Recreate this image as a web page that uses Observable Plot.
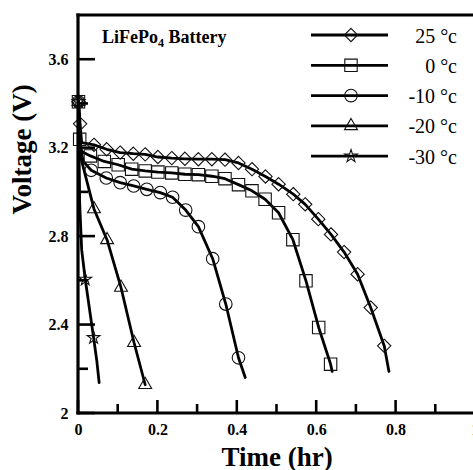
<!DOCTYPE html>
<html><head><meta charset="utf-8">
<script src="https://cdn.jsdelivr.net/npm/d3@7"></script>
<script src="https://cdn.jsdelivr.net/npm/@observablehq/plot@0.6"></script>
<style>html,body{margin:0;padding:0;background:#fff;overflow:hidden}
#wrap{position:relative;width:473px;height:470px}
#overlay{position:absolute;left:0;top:0;pointer-events:none}</style>
</head><body><div id="wrap"><div id="chart"></div><svg id="overlay" width="473" height="470"></svg></div>
<script>
// ---- data ----
const seriesNames = ["25 \u00b0c", "0 \u00b0c", "-10 \u00b0c", "-20 \u00b0c", "-30 \u00b0c"];
const seriesSymbols = ["diamond2", "square", "circle", "triangle", "star"];

// 25 °C (diamonds)
const t25 = [0, 0.004, 0.008, 0.039, 0.071, 0.105, 0.138, 0.168, 0.2, 0.235, 0.268, 0.302, 0.336, 0.369, 0.403, 0.437, 0.471, 0.504, 0.541, 0.571, 0.604, 0.636, 0.669, 0.703, 0.736, 0.770, 0.782];
const v25 = [3.41, 3.31, 3.225, 3.215, 3.195, 3.18, 3.175, 3.172, 3.16, 3.155, 3.152, 3.15, 3.15, 3.148, 3.133, 3.105, 3.072, 3.037, 2.992, 2.946, 2.879, 2.81, 2.73, 2.63, 2.479, 2.306, 2.19];
const m25 = [1,1,0,1,1,1,1,1,1,1,1,1,1,1,1,1,1,1,1,1,1,1,1,1,1,1,0];
// 0 °C (squares)
const t0 = [0, 0.003, 0.008, 0.03, 0.065, 0.1, 0.134, 0.168, 0.2, 0.235, 0.268, 0.302, 0.336, 0.369, 0.403, 0.437, 0.47, 0.504, 0.54, 0.573, 0.605, 0.635, 0.639];
const v0 = [3.41, 3.24, 3.185, 3.165, 3.14, 3.125, 3.105, 3.097, 3.092, 3.088, 3.082, 3.08, 3.073, 3.062, 3.035, 3.007, 2.969, 2.908, 2.786, 2.60, 2.389, 2.223, 2.19];
const m0 = [1,1,0,1,1,1,1,1,1,1,1,1,1,1,1,1,1,1,1,1,1,1,0];
// -10 °C (circles)
const t10 = [0, 0.005, 0.012, 0.032, 0.07, 0.105, 0.139, 0.172, 0.206, 0.237, 0.27, 0.302, 0.338, 0.371, 0.403, 0.42];
const v10 = [3.41, 3.2, 3.14, 3.1, 3.065, 3.044, 3.029, 3.014, 2.999, 2.978, 2.92, 2.845, 2.70, 2.495, 2.252, 2.163];
const m10 = [1,0,0,1,1,1,1,1,1,1,1,1,1,1,1,0];
// -20 °C (triangles)
const t20 = [0, 0.004, 0.039, 0.072, 0.107, 0.14, 0.168];
const v20 = [3.41, 3.17, 2.925, 2.785, 2.57, 2.32, 2.13];
const m20 = [1,0,1,1,1,1,1];
// -30 °C (stars)
const t30 = [0, 0.003, 0.008, 0.017, 0.038, 0.046, 0.052];
const v30 = [3.41, 2.95, 2.74, 2.607, 2.343, 2.24, 2.14];
const m30 = [1,0,0,1,1,0,0];

const xMajorTicks = [0, 0.2, 0.4, 0.6, 0.8, 1];
const xTickLabels = ["0", "0.2", "0.4", "0.6", "0.8", "1"];
const xMinorTicks = [0.1, 0.3, 0.5, 0.7, 0.9];
const yMajorTicks = [2, 2.4, 2.8, 3.2, 3.6];
const yTickLabels = ["2", "2.4", "2.8", "3.2", "3.6"];
const yMinorTicks = [2.2, 2.6, 3.0, 3.4];
const xDomain = [0, 1];
const yDomain = [2, 3.8];
const xTitle = "Time (hr)";
const yTitle = "Voltage (V)";
const legendTitle = ["LiFePo", "4", " Battery"];

// ---- build ----
const seriesT = [t25, t0, t10, t20, t30];
const seriesV = [v25, v0, v10, v20, v30];
const seriesM = [m25, m0, m10, m20, m30];
const rows = seriesT.map((ts, i) => ts.map((t, j) => ({s: i, t, v: seriesV[i][j], m: seriesM[i][j]})));

const W = 473, H = 470, mL = 78, mT = 15, mB = 57, mR = -2;
const serif = "'Liberation Serif', 'Times New Roman', serif";
const markerR = [6, 7, 6.3, 4.8, 4];

const marks = [];
rows.forEach((r, i) => marks.push(Plot.line(r, {x: "t", y: "v", stroke: "#000", strokeWidth: 2.8, strokeLinejoin: "round"})));
rows.forEach((r, i) => marks.push(Plot.dot(r.filter(d => d.m), {x: "t", y: "v", symbol: () => seriesSymbols[i], r: markerR[i], stroke: "#111", strokeWidth: 1.1, fill: "none"})));
marks.push(
  Plot.axisX({ticks: xMajorTicks, tickSize: 0, tickPadding: 10, tickFormat: d => xTickLabels[xMajorTicks.indexOf(d)], fontSize: 16, fontWeight: "bold", label: null}),
  Plot.axisY({ticks: yMajorTicks, tickSize: 0, tickPadding: 10, tickFormat: d => yTickLabels[yMajorTicks.indexOf(d)], fontSize: 16, fontWeight: "bold", label: null}),
  Plot.text([xTitle], {text: d => d, frameAnchor: "bottom", dy: 52, lineAnchor: "bottom", fontSize: 27, fontWeight: "bold"}),
  Plot.text([yTitle], {text: d => d, frameAnchor: "left", rotate: -90, dx: -48, lineAnchor: "bottom", fontSize: 27, fontWeight: "bold"})
);

const plot = Plot.plot({
  width: W, height: H,
  marginLeft: mL, marginTop: mT, marginBottom: mB, marginRight: mR,
  x: {domain: xDomain},
  y: {domain: yDomain},
  style: {fontFamily: serif, background: "#fff", color: "#000"},
  marks
});
document.getElementById("chart").appendChild(plot);

// frame, inward ticks and legend, positioned through Plot's own scales
const xs = plot.scale("x"), ys = plot.scale("y");
const ov = d3.select("#overlay");
const x0 = xs.apply(xDomain[0]), x1 = xs.apply(xDomain[1]);
const y0 = ys.apply(yDomain[0]), y1 = ys.apply(yDomain[1]);
const tk = ov.append("g").attr("stroke", "#000").attr("stroke-width", 2.6);
xMajorTicks.forEach(v => tk.append("line").attr("x1", xs.apply(v)).attr("x2", xs.apply(v)).attr("y1", y0).attr("y2", y0 - 13));
xMinorTicks.forEach(v => tk.append("line").attr("x1", xs.apply(v)).attr("x2", xs.apply(v)).attr("y1", y0).attr("y2", y0 - 9));
yMajorTicks.forEach(v => tk.append("line").attr("y1", ys.apply(v)).attr("y2", ys.apply(v)).attr("x1", x0).attr("x2", x0 + 17));
yMinorTicks.forEach(v => tk.append("line").attr("y1", ys.apply(v)).attr("y2", ys.apply(v)).attr("x1", x0).attr("x2", x0 + 10));
const fr = ov.append("g").attr("stroke", "#000").attr("stroke-width", 3.2).attr("stroke-linecap", "square");
fr.append("line").attr("x1", x0).attr("x2", x0).attr("y1", y1).attr("y2", y0);
fr.append("line").attr("x1", x0).attr("x2", x1).attr("y1", y0).attr("y2", y0);
fr.append("line").attr("x1", x0).attr("x2", x1).attr("y1", y1).attr("y2", y1);
fr.append("line").attr("x1", x1).attr("x2", x1).attr("y1", y1).attr("y2", y0);

const lg = ov.append("g").attr("font-family", serif);
const d3Sym = {diamond2: d3.symbolDiamond2, square: d3.symbolSquare, circle: d3.symbolCircle, triangle: d3.symbolTriangle, star: d3.symbolStar};
seriesNames.forEach((name, i) => {
  const y = 35 + i * 30.3;
  lg.append("line").attr("x1", 311).attr("x2", 388).attr("y1", y).attr("y2", y).attr("stroke", "#000").attr("stroke-width", 2.8);
  lg.append("path").attr("d", d3.symbol(d3Sym[seriesSymbols[i]], Math.PI * markerR[i] * markerR[i])())
    .attr("transform", `translate(351,${y})`).attr("fill", "none").attr("stroke", "#111").attr("stroke-width", 1.1);
  lg.append("text").attr("x", 457).attr("y", y + 7.5).attr("text-anchor", "end").attr("font-size", 20).attr("fill", "#000").text(name);
});
const tt = lg.append("text").attr("x", 102).attr("y", 43).attr("font-size", 18).attr("font-weight", "bold").attr("fill", "#000");
tt.append("tspan").text(legendTitle[0]);
tt.append("tspan").attr("font-size", 12).attr("dy", 4).text(legendTitle[1]);
tt.append("tspan").attr("dy", -4).text(legendTitle[2]);
</script>
</body></html>
